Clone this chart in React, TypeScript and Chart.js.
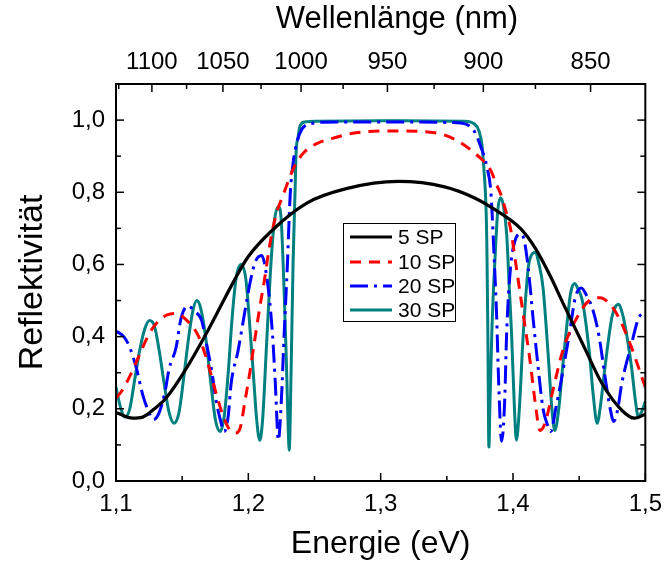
import React, { useEffect, useRef } from 'react';
import { Chart, registerables } from 'chart.js';

Chart.register(...registerables);

// ---- Data (energy in eV, reflectivity) ----
const SERIES_LABELS = ['5 SP', '10 SP', '20 SP', '30 SP'];

const E_5SP = [1.1, 1.1126, 1.1201, 1.129, 1.1379, 1.1528, 1.1699, 1.19, 1.1996, 1.2167, 1.2442, 1.274, 1.3134, 1.3483, 1.3706, 1.3855, 1.4056, 1.4167, 1.4279, 1.4375, 1.4546, 1.4673, 1.4822, 1.4918, 1.5];
const R_5SP = [0.19, 0.174, 0.177, 0.2, 0.23, 0.31, 0.42, 0.56, 0.62, 0.69, 0.77, 0.81, 0.83, 0.815, 0.785, 0.754, 0.7, 0.646, 0.57, 0.495, 0.365, 0.27, 0.196, 0.174, 0.185];

const E_10SP = [1.1, 1.1045, 1.1104, 1.1178, 1.1253, 1.1327, 1.1387, 1.1454, 1.1535, 1.1625, 1.1699, 1.1751, 1.181, 1.1862, 1.19, 1.1937, 1.1974, 1.2011, 1.2048, 1.2086, 1.2123, 1.216, 1.2204, 1.2271, 1.2346, 1.242, 1.2517, 1.2643, 1.2814, 1.3112, 1.3409, 1.3558, 1.3654, 1.3706, 1.3781, 1.3833, 1.3877, 1.3907, 1.3952, 1.3981, 1.4026, 1.4078, 1.413, 1.4167, 1.4204, 1.4242, 1.4301, 1.4375, 1.4472, 1.4576, 1.4658, 1.4732, 1.4799, 1.4896, 1.4948, 1.5];
const R_10SP = [0.23, 0.25, 0.29, 0.35, 0.41, 0.445, 0.46, 0.464, 0.445, 0.4, 0.32, 0.25, 0.18, 0.14, 0.133, 0.145, 0.22, 0.3, 0.39, 0.48, 0.56, 0.65, 0.73, 0.8, 0.87, 0.91, 0.935, 0.95, 0.965, 0.97, 0.965, 0.947, 0.925, 0.91, 0.885, 0.86, 0.82, 0.795, 0.74, 0.7, 0.59, 0.46, 0.33, 0.22, 0.14, 0.16, 0.25, 0.36, 0.445, 0.5, 0.508, 0.49, 0.453, 0.37, 0.315, 0.26];

const E_20SP = [1.1, 1.1059, 1.1104, 1.1156, 1.1201, 1.1238, 1.1283, 1.1327, 1.1372, 1.1401, 1.1454, 1.1491, 1.1543, 1.1595, 1.1647, 1.1684, 1.1721, 1.1758, 1.1788, 1.1818, 1.1848, 1.187, 1.1922, 1.1974, 1.2019, 1.2056, 1.21, 1.2145, 1.2182, 1.2204, 1.2227, 1.2249, 1.2271, 1.2294, 1.2316, 1.2338, 1.2368, 1.2405, 1.2465, 1.2665, 1.3112, 1.3558, 1.3632, 1.3706, 1.3758, 1.3803, 1.3833, 1.3855, 1.3877, 1.3892, 1.3914, 1.3937, 1.3952, 1.3981, 1.4011, 1.4056, 1.4086, 1.4115, 1.4152, 1.419, 1.4227, 1.4256, 1.4286, 1.4323, 1.4375, 1.4427, 1.4472, 1.4517, 1.4561, 1.4599, 1.4651, 1.4695, 1.4732, 1.4762, 1.4792, 1.4822, 1.4896, 1.4948, 1.5];
const R_20SP = [0.415, 0.4, 0.37, 0.31, 0.24, 0.2, 0.17, 0.19, 0.25, 0.31, 0.37, 0.45, 0.485, 0.47, 0.445, 0.38, 0.31, 0.22, 0.17, 0.137, 0.18, 0.27, 0.36, 0.47, 0.56, 0.61, 0.625, 0.55, 0.41, 0.27, 0.113, 0.22, 0.41, 0.59, 0.79, 0.88, 0.94, 0.975, 0.99, 0.995, 0.995, 0.993, 0.99, 0.97, 0.925, 0.87, 0.8, 0.64, 0.45, 0.27, 0.11, 0.22, 0.41, 0.59, 0.66, 0.685, 0.665, 0.59, 0.45, 0.315, 0.2, 0.16, 0.137, 0.2, 0.3, 0.41, 0.51, 0.535, 0.51, 0.48, 0.4, 0.29, 0.205, 0.165, 0.2, 0.27, 0.38, 0.45, 0.47];

const E_30SP = [1.1, 1.103, 1.1067, 1.1104, 1.1141, 1.1178, 1.1216, 1.1253, 1.129, 1.1327, 1.1364, 1.1401, 1.1439, 1.1476, 1.1513, 1.155, 1.158, 1.161, 1.1639, 1.1677, 1.1714, 1.1751, 1.1788, 1.1818, 1.1848, 1.1877, 1.1907, 1.1944, 1.1981, 1.2011, 1.2041, 1.2063, 1.2086, 1.2108, 1.2138, 1.2167, 1.2197, 1.2227, 1.2249, 1.2271, 1.2286, 1.2301, 1.2309, 1.2323, 1.2338, 1.2353, 1.2361, 1.2375, 1.239, 1.2428, 1.2517, 1.3112, 1.3632, 1.3706, 1.3743, 1.3766, 1.3781, 1.3796, 1.3803, 1.381, 1.3818, 1.3825, 1.384, 1.3855, 1.387, 1.3885, 1.3907, 1.3929, 1.3952, 1.3974, 1.3989, 1.4011, 1.4026, 1.4048, 1.4078, 1.4115, 1.4138, 1.4167, 1.4197, 1.4227, 1.4264, 1.4294, 1.4316, 1.4346, 1.4375, 1.4413, 1.4435, 1.4465, 1.4494, 1.4524, 1.4576, 1.4606, 1.4636, 1.4665, 1.4695, 1.4747, 1.4777, 1.4799, 1.4822, 1.4844, 1.4896, 1.4926, 1.4948, 1.497, 1.5];
const R_30SP = [0.26, 0.21, 0.177, 0.2, 0.28, 0.36, 0.42, 0.445, 0.43, 0.36, 0.27, 0.19, 0.16, 0.19, 0.29, 0.4, 0.47, 0.5, 0.48, 0.4, 0.28, 0.17, 0.137, 0.18, 0.3, 0.45, 0.56, 0.6, 0.56, 0.43, 0.28, 0.17, 0.113, 0.17, 0.38, 0.58, 0.72, 0.76, 0.72, 0.52, 0.35, 0.15, 0.085, 0.3, 0.6, 0.8, 0.91, 0.95, 0.983, 0.995, 0.997, 0.998, 0.997, 0.99, 0.97, 0.93, 0.86, 0.76, 0.64, 0.41, 0.094, 0.2, 0.41, 0.55, 0.66, 0.75, 0.785, 0.76, 0.685, 0.52, 0.41, 0.2, 0.113, 0.2, 0.41, 0.59, 0.625, 0.633, 0.6, 0.536, 0.36, 0.2, 0.14, 0.2, 0.315, 0.453, 0.52, 0.547, 0.53, 0.5, 0.36, 0.24, 0.16, 0.22, 0.315, 0.453, 0.485, 0.49, 0.47, 0.436, 0.315, 0.22, 0.177, 0.19, 0.22];

// ---- Axis ticks ----
const X_MAJOR = [1.1, 1.2, 1.3, 1.4, 1.5];
const X_MINOR = [1.15, 1.25, 1.35, 1.45];
const Y_MAJOR = [0, 0.2, 0.4, 0.6, 0.8, 1.0];
const Y_MINOR = [0.1, 0.3, 0.5, 0.7, 0.9];
const NM_MAJOR = [1100, 1050, 1000, 950, 900, 850];
const NM_MINOR = [1125, 1075, 1025, 975, 925, 875];
const HC = 1239.84; // eV*nm
const TOP_TITLE = 'Wellenlänge (nm)';

const COLORS = ['#000000', '#ff0000', '#0000ff', '#008080'];
const DASHES: number[][] = [[], [11, 8], [18, 6, 3, 6], []];
const WIDTHS = [3.2, 3, 3, 3];

const FONT = 'Liberation Sans, Arial, sans-serif';

const fmt = (v: number) => v.toFixed(1).replace('.', ',');

const framePlugin = {
  id: 'frameTicks',
  afterDraw(chart: any) {
    const { ctx, chartArea: a, scales } = chart;
    const xs = scales.x;
    const ys = scales.y;
    ctx.save();
    ctx.strokeStyle = '#000';
    ctx.lineWidth = 1.5;
    const seg = (x1: number, y1: number, x2: number, y2: number) => {
      ctx.beginPath();
      ctx.moveTo(x1, y1);
      ctx.lineTo(x2, y2);
      ctx.stroke();
    };
    const MAJ = 8, MIN = 5;
    X_MAJOR.forEach((v) => { const p = xs.getPixelForValue(v); seg(p, a.bottom, p, a.bottom - MAJ); });
    X_MINOR.forEach((v) => { const p = xs.getPixelForValue(v); seg(p, a.bottom, p, a.bottom - MIN); });
    NM_MAJOR.forEach((l) => { const p = xs.getPixelForValue(HC / l); seg(p, a.top, p, a.top + MAJ); });
    NM_MINOR.forEach((l) => { const p = xs.getPixelForValue(HC / l); seg(p, a.top, p, a.top + MIN); });
    Y_MAJOR.forEach((v) => {
      const p = ys.getPixelForValue(v);
      seg(a.left, p, a.left + MAJ, p);
      seg(a.right, p, a.right - MAJ, p);
    });
    Y_MINOR.forEach((v) => {
      const p = ys.getPixelForValue(v);
      seg(a.left, p, a.left + MIN, p);
      seg(a.right, p, a.right - MIN, p);
    });
    ctx.lineWidth = 2;
    ctx.strokeRect(a.left, a.top, a.right - a.left, a.bottom - a.top);

    // top axis title
    ctx.fillStyle = '#000';
    ctx.font = `31px ${FONT}`;
    ctx.textAlign = 'center';
    ctx.textBaseline = 'middle';
    ctx.fillText(TOP_TITLE, 397, 19);

    // legend
    const bx = 343, by = 223, bw = 112, bh = 98;
    ctx.fillStyle = '#fff';
    ctx.fillRect(bx, by, bw, bh);
    ctx.strokeStyle = '#000';
    ctx.lineWidth = 1;
    ctx.strokeRect(bx + 0.5, by + 0.5, bw, bh);
    const rows = [237, 262, 286, 310];
    chart.data.datasets.forEach((ds: any, i: number) => {
      const y = rows[i];
      ctx.strokeStyle = ds.borderColor;
      ctx.lineWidth = ds.borderWidth;
      ctx.setLineDash(ds.borderDash || []);
      seg(350, y, 392, y);
      ctx.setLineDash([]);
      ctx.fillStyle = '#000';
      ctx.font = `21px ${FONT}`;
      ctx.textAlign = 'left';
      ctx.textBaseline = 'middle';
      ctx.fillText(ds.label, 398, y + 1);
    });
    ctx.restore();
  },
};

export default function App() {
  const ref = useRef<HTMLCanvasElement>(null);
  useEffect(() => {
    if (!ref.current) return;
    const energies = [E_5SP, E_10SP, E_20SP, E_30SP];
    const refl = [R_5SP, R_10SP, R_20SP, R_30SP];
    const chart = new Chart(ref.current, {
      type: 'line',
      data: {
        datasets: SERIES_LABELS.map((label, i) => ({
          label,
          data: energies[i].map((x, j) => ({ x, y: refl[i][j] })),
          borderColor: COLORS[i],
          backgroundColor: COLORS[i],
          borderWidth: WIDTHS[i],
          borderDash: DASHES[i],
          pointRadius: 0,
          fill: false,
          cubicInterpolationMode: 'monotone' as const,
        })),
      },
      options: {
        responsive: false,
        animation: false,
        devicePixelRatio: 1,
        layout: { padding: { left: 0, right: 17, top: 0, bottom: 0 } },
        plugins: { legend: { display: false }, tooltip: { enabled: false } },
        scales: {
          x: {
            type: 'linear',
            position: 'bottom',
            min: 1.1,
            max: 1.5,
            grid: { display: false, drawTicks: false },
            border: { display: false },
            afterBuildTicks: (s: any) => { s.ticks = X_MAJOR.map((v) => ({ value: v })); },
            afterFit: (s: any) => { s.height = 84; },
            ticks: {
              autoSkip: false,
              maxRotation: 0,
              minRotation: 0,
              padding: 9,
              color: '#000',
              font: { family: FONT, size: 24 },
              callback: (v: any) => fmt(Number(v)),
            },
            title: {
              display: true,
              text: 'Energie (eV)',
              color: '#000',
              font: { family: FONT, size: 32 },
              padding: { top: 0, bottom: 2 },
            },
          },
          x2: {
            type: 'linear',
            position: 'top',
            min: 1.1,
            max: 1.5,
            grid: { display: false, drawTicks: false },
            border: { display: false },
            afterBuildTicks: (s: any) => { s.ticks = NM_MAJOR.map((l) => ({ value: HC / l })); },
            afterFit: (s: any) => { s.height = 84; },
            ticks: {
              autoSkip: false,
              maxRotation: 0,
              minRotation: 0,
              padding: 7,
              color: '#000',
              font: { family: FONT, size: 24 },
              callback: (v: any) => String(Math.round(HC / Number(v))),
            },
          },
          y: {
            type: 'linear',
            position: 'left',
            min: 0,
            max: 1.1,
            grid: { display: false, drawTicks: false },
            border: { display: false },
            afterBuildTicks: (s: any) => { s.ticks = Y_MAJOR.map((v) => ({ value: v })); },
            afterFit: (s: any) => { s.width = 116; },
            ticks: {
              autoSkip: false,
              padding: 11,
              color: '#000',
              font: { family: FONT, size: 24 },
              callback: (v: any) => fmt(Number(v)),
            },
            title: {
              display: true,
              text: 'Reflektivität',
              color: '#000',
              font: { family: FONT, size: 34 },
              padding: { top: 12, bottom: 0 },
            },
          },
        },
      },
      plugins: [framePlugin],
    });
    return () => chart.destroy();
  }, []);

  return (
    <div style={{ position: 'fixed', left: 0, top: 0, width: 671, height: 565, background: '#fff' }}>
      <canvas ref={ref} width={671} height={565} style={{ width: 671, height: 565, display: 'block' }} />
    </div>
  );
}
